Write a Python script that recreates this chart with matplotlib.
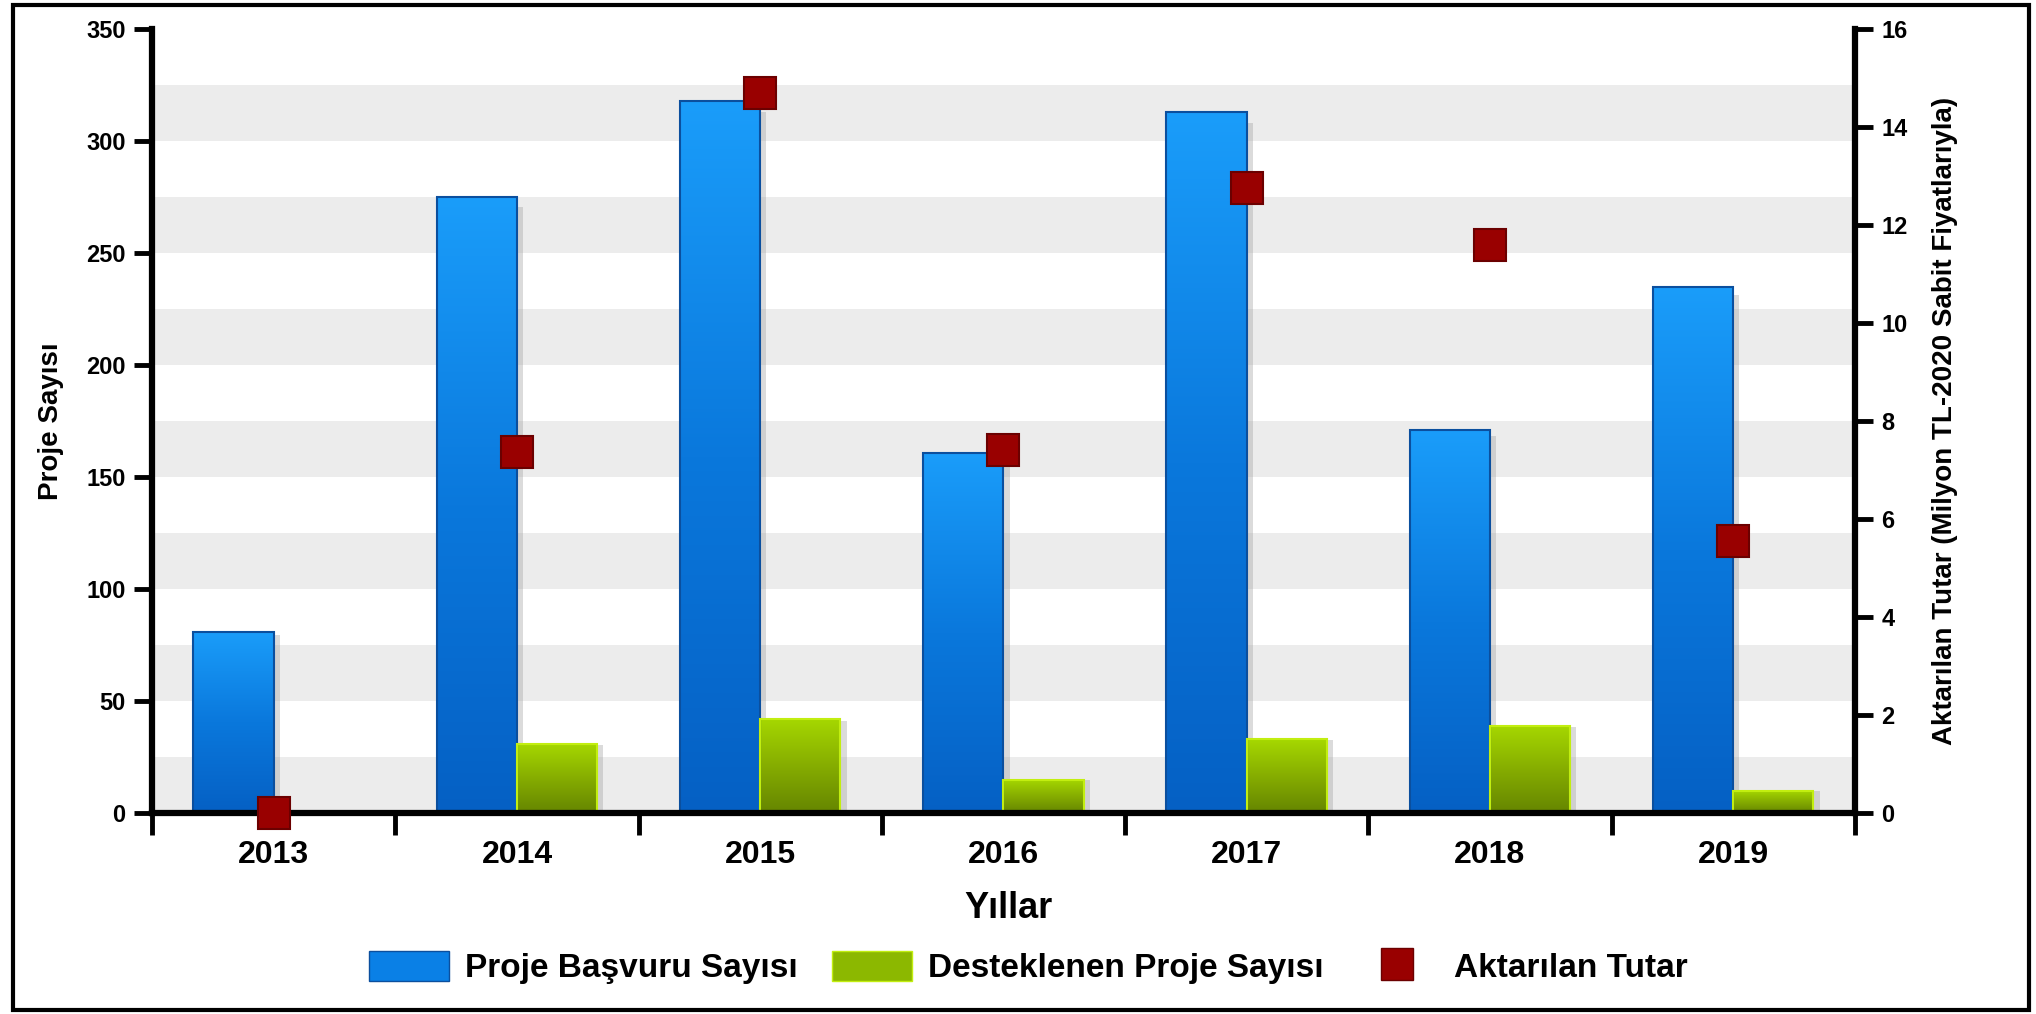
import numpy as np
import matplotlib.pyplot as plt
from matplotlib.colors import LinearSegmentedColormap
from matplotlib.patches import Patch, Rectangle
from matplotlib.lines import Line2D

plt.rcParams['font.family'] = ['Liberation Sans', 'DejaVu Sans']
plt.rcParams['font.weight'] = 'bold'

# ====== DATA ======
years = ['2013', '2014', '2015', '2016', '2017', '2018', '2019']
basvuru = [81, 275, 318, 161, 313, 171, 235]        # Proje Başvuru Sayısı
desteklenen = [0, 31, 42, 15, 33, 39, 10]           # Desteklenen Proje Sayısı
tutar = [0.0, 7.37, 14.71, 7.42, 12.77, 11.6, 5.56]  # Aktarılan Tutar (milyon TL)

labels = ['Proje Başvuru Sayısı', 'Desteklenen Proje Sayısı', 'Aktarılan Tutar']

blue_cmap = LinearSegmentedColormap.from_list('blue', ['#0560c4', '#0a78dc', '#1a9dfa'])
green_cmap = LinearSegmentedColormap.from_list('green', ['#658500', '#86ad00', '#a6d800'])
grad = np.linspace(0, 1, 256).reshape(-1, 1)

fig = plt.figure(figsize=(20.36, 10.14), dpi=100)
ax = fig.add_axes([0.0747, 0.198, 0.8363, 0.773])

# gray bands
for lo in range(0, 350, 50):
    ax.axhspan(lo, lo + 25, color='#ececec', lw=0, zorder=0)

w = 0.33


def grad_bar(x0, h, cmap, edge, zo=2):
    if h <= 0:
        return
    # soft shadow on the right
    ax.add_patch(Rectangle((x0 + 0.025, 0), w, h * 0.985, fc='#9a9a9a', ec='none',
                           alpha=0.35, zorder=zo - 0.5))
    ax.imshow(grad, extent=[x0, x0 + w, 0, h], origin='lower', cmap=cmap,
              aspect='auto', interpolation='bicubic', zorder=zo)
    ax.add_patch(Rectangle((x0, 0), w, h, fill=False, ec=edge, lw=1.5, zorder=zo + 0.1))


for i in range(len(years)):
    grad_bar(i - w, basvuru[i], blue_cmap, '#0b4f9e')
    grad_bar(i, desteklenen[i], green_cmap, '#c2ee10')

ax.set_xlim(-0.5, 6.5)
ax.set_ylim(0, 350)

ax.set_xticks(np.arange(-0.5, 7, 1))
ax.set_xticklabels([])
ax.set_xticks(range(len(years)), minor=True)
ax.set_xticklabels(years, minor=True)
ax.tick_params(axis='x', which='major', length=16, width=3.5, direction='out')
ax.tick_params(axis='x', which='minor', length=0, pad=19, labelsize=23)
ax.set_yticks(range(0, 351, 50))
ax.tick_params(axis='y', length=13, width=3.5, labelsize=17, pad=6)

for s in ['top', 'right']:
    ax.spines[s].set_visible(False)
for s in ['left', 'bottom']:
    ax.spines[s].set_linewidth(4.5)

ax2 = ax.twinx()
ax2.set_ylim(0, 16)
ax2.set_yticks(range(0, 17, 2))
ax2.tick_params(axis='y', length=13, width=3.5, labelsize=17, pad=6)
for s in ['top', 'left', 'bottom']:
    ax2.spines[s].set_visible(False)
ax2.spines['right'].set_linewidth(4.5)
ax2.plot(range(len(years)), tutar, ls='none', marker='s', ms=23, mfc='#990000',
         mec='#6b0000', mew=1.5, clip_on=False, zorder=5)

# axis titles
fig.text(51 / 2036, 0.585, 'Proje Sayısı', rotation=90, ha='center', va='center',
         fontsize=20, weight='bold')
fig.text(1945 / 2036, 0.585, 'Aktarılan Tutar (Milyon TL-2020 Sabit Fiyatlarıyla)',
         rotation=90, ha='center', va='center', fontsize=20, weight='bold')
fig.text(1008 / 2036, 0.1045, 'Yıllar', ha='center', va='center', fontsize=26,
         weight='bold')

# legend
handles = [Patch(fc='#0a80e6', ec='#0b4f9e'),
           Patch(fc='#8cb800', ec='#c2ee10'),
           Line2D([], [], ls='none', marker='s', ms=23, mfc='#990000', mec='#6b0000')]
fig.legend(handles, labels, loc='center', bbox_to_anchor=(0.505, 0.046), ncol=3,
           frameon=False, fontsize=24, handlelength=2.4, handleheight=1.0,
           handletextpad=0.5, columnspacing=1.0)

# outer frame
fig.add_artist(Rectangle((13 / 2036, 0.004), (2029 - 13) / 2036, 0.991,
                         transform=fig.transFigure, fill=False, lw=3, ec='black'))

fig.savefig('out.png', dpi=100)
